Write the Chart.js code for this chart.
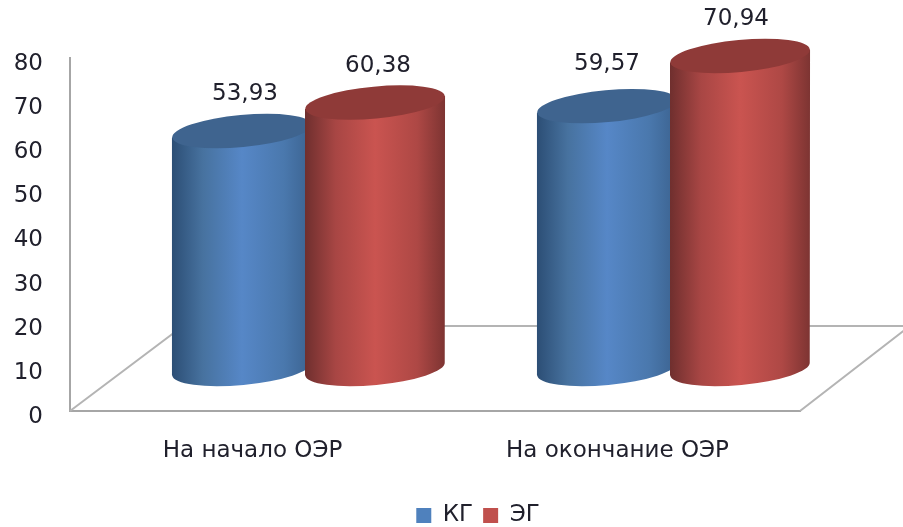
<!DOCTYPE html>
<html>
<head>
<meta charset="utf-8">
<style>
  html, body { margin: 0; padding: 0; background: #fff; }
  canvas { display: block; filter: blur(0.5px); }
</style>
<script src="https://cdn.jsdelivr.net/npm/chart.js@4"></script>
</head>
<body>
<canvas id="chart" width="903" height="527"></canvas>
<script>
const categories = ['На начало ОЭР', 'На окончание ОЭР'];
const seriesNames = ['КГ', 'ЭГ'];
const kgValues = [53.93, 59.57];
const egValues = [60.38, 70.94];
const yTicks = [0, 10, 20, 30, 40, 50, 60, 70, 80];

const textColor = '#20202c';
const axisColor = '#a6a6a6';
const fontFamily = "'DejaVu Sans', sans-serif";

const barStyles = [
    { side: ['#2c4e75', '#47729f', '#5687c7', '#4a78ad', '#3b628f'], top: '#3f648f' },
    { side: ['#6f2f2e', '#a84644', '#ca5450', '#ae4845', '#7d3432'], top: '#8f3a38' }
];

// the 3d look: cylinders stand on a floor pushed back from the axis
const depthX = 56, depthY = 42, tilt = -0.093, capHeight = 16;
// value labels are not placed quite evenly in the original
const labelNudge = [[[1, 0], [-2, -5]], [[1, 0], [-6, 0]]];

const floorPlugin = {
    id: 'floor',
    afterLayout(chart) {
        // legend sits right of the canvas centre and close to the bottom edge
        const legend = chart.legend;
        legend.left += 53;
        legend.top += 10;
        legend.bottom += 10;
    },
    beforeDatasetsDraw(chart) {
        const { ctx, chartArea: a } = chart;
        const zero = chart.scales.y.getPixelForValue(0);
        ctx.save();
        ctx.strokeStyle = '#b4b4b4';
        ctx.lineWidth = 2;
        ctx.beginPath();
        ctx.moveTo(a.left, zero);
        ctx.lineTo(a.left + 113, zero - 85);
        ctx.lineTo(903, zero - 85);
        ctx.moveTo(a.right, zero);
        ctx.lineTo(a.right + 106, zero - 82);
        ctx.stroke();
        ctx.restore();
    }
};

const cylinderPlugin = {
    id: 'cylinders',
    beforeDatasetDraw() {
        return false; // the flat bars are replaced below
    },
    afterDatasetsDraw(chart) {
        const ctx = chart.ctx;
        chart.data.datasets.forEach((ds, d) => {
            const style = barStyles[d];
            chart.getDatasetMeta(d).data.forEach((bar, i) => {
                const cx = bar.x + depthX;
                const topY = bar.y - depthY;
                const baseY = bar.base - depthY;
                const rx = bar.width / 2 + 3.5;
                const dy = Math.sin(tilt) * rx;

                const grad = ctx.createLinearGradient(cx - rx, 0, cx + rx, 0);
                [0, 0.22, 0.5, 0.8, 1].forEach((p, k) => grad.addColorStop(p, style.side[k]));

                ctx.save();
                ctx.fillStyle = grad;
                ctx.beginPath();
                ctx.moveTo(cx - rx, topY - dy);
                ctx.lineTo(cx - rx, baseY - dy);
                ctx.ellipse(cx, baseY, rx, capHeight, tilt, Math.PI, 0, true);
                ctx.lineTo(cx + rx, topY + dy);
                ctx.closePath();
                ctx.fill();

                ctx.fillStyle = style.top;
                ctx.beginPath();
                ctx.ellipse(cx, topY, rx, capHeight, tilt, 0, Math.PI * 2);
                ctx.fill();
                ctx.restore();
            });
        });

        // value labels go last, nothing may cover them
        ctx.save();
        ctx.fillStyle = textColor;
        ctx.font = '23px ' + fontFamily;
        ctx.textAlign = 'center';
        ctx.textBaseline = 'middle';
        chart.data.datasets.forEach((ds, d) => {
            chart.getDatasetMeta(d).data.forEach((bar, i) => {
                const label = ds.data[i].toFixed(2).replace('.', ',');
                const [nx, ny] = labelNudge[d][i];
                ctx.fillText(label, bar.x + depthX + 2 + nx, bar.y - depthY - 37 + ny);
            });
        });
        ctx.restore();
    }
};

new Chart(document.getElementById('chart'), {
    type: 'bar',
    data: {
        labels: categories,
        datasets: [
            { label: seriesNames[0], data: kgValues, backgroundColor: '#4f81bd' },
            { label: seriesNames[1], data: egValues, backgroundColor: '#c0504d' }
        ]
    },
    options: {
        responsive: false,
        animation: false,
        barPercentage: 1,
        categoryPercentage: 0.729,
        layout: { padding: { left: 0, top: 58, right: 0, bottom: 0 } },
        plugins: {
            tooltip: { enabled: false },
            legend: {
                position: 'bottom',
                labels: {
                    color: textColor,
                    font: { family: fontFamily, size: 23 },
                    boxWidth: 15,
                    boxHeight: 15,
                    padding: 10
                }
            }
        },
        scales: {
            x: {
                grid: { display: false, drawTicks: false },
                border: { color: axisColor, width: 2 },
                ticks: {
                    color: textColor,
                    font: { family: fontFamily, size: 23 },
                    padding: 26,
                    maxRotation: 0
                },
                afterFit(scale) { scale.height = 73; }
            },
            y: {
                min: 0,
                max: 80,
                grid: { display: false, drawTicks: false },
                border: { color: axisColor, width: 2 },
                afterBuildTicks(scale) { scale.ticks = yTicks.map(v => ({ value: v })); },
                ticks: {
                    color: textColor,
                    // empty first line + short line height pushes the number 6px below its tick
                    callback: v => ['', String(v)],
                    font: { family: fontFamily, size: 23, lineHeight: '12px' },
                    padding: 27
                },
                afterFit(scale) { scale.width = 70; }
            },
            // empty axis, only keeps the floor clear of the right edge
            spacer: {
                position: 'right',
                grid: { display: false, drawTicks: false },
                border: { display: false },
                ticks: { display: false },
                afterFit(scale) { scale.width = 103; }
            }
        }
    },
    plugins: [floorPlugin, cylinderPlugin]
});
</script>
</body>
</html>
